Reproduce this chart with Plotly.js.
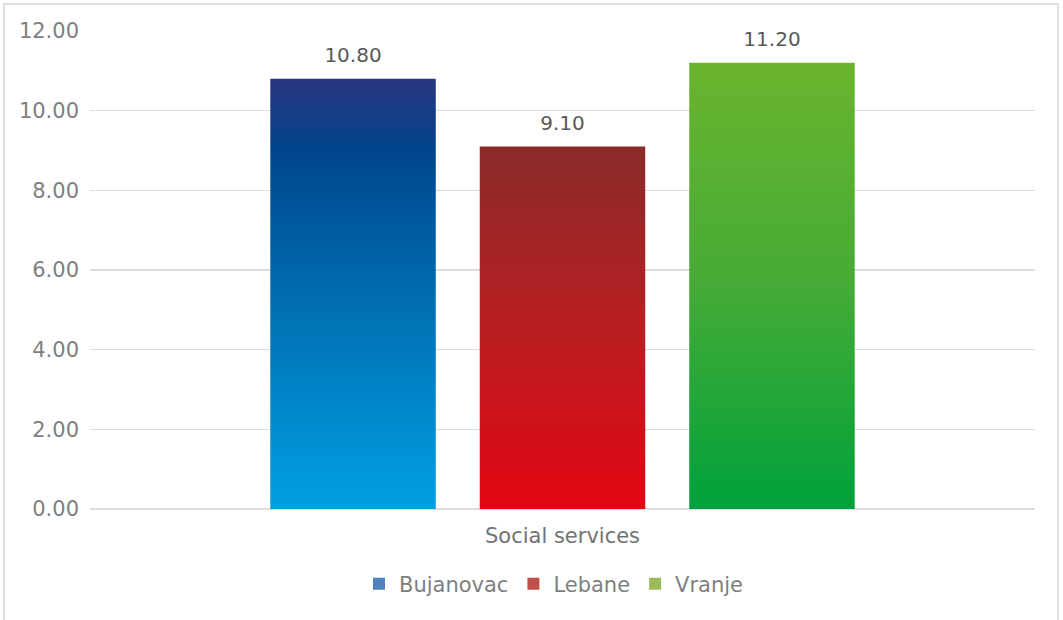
<!DOCTYPE html>
<html>
<head>
<meta charset="utf-8">
<script src="https://cdn.plot.ly/plotly-3.0.1.min.js"></script>
<style>
  html, body { margin: 0; padding: 0; background: #ffffff; }
  #wrap { position: relative; width: 1063px; height: 620px; overflow: hidden; }
  #chart { width: 1063px; height: 620px; }
  #frame { position: absolute; left: 3px; top: 3px; width: 1056px; height: 640px;
           border: 2px solid #dedede; pointer-events: none; box-sizing: border-box; }
</style>
</head>
<body>
<div id="wrap">
  <div id="chart"></div>
  <div id="frame"></div>
</div>
<script>
const categories = ["Social services"];
const seriesNames = ["Bujanovac", "Lebane", "Vranje"];
const bujanovac = [10.8];
const lebane = [9.1];
const vranje = [11.2];
const tickValues = [0, 2, 4, 6, 8, 10, 12];
const tickLabels = ["0.00", "2.00", "4.00", "6.00", "8.00", "10.00", "12.00"];

const legendColors = ["#4F81BD", "#C0504D", "#9BBB59"];
const gradients = [
  [[0, "#2a3481"], [0.17, "#00468c"], [0.55, "#0072b5"], [1, "#009fe3"]],
  [[0, "#8a2a2a"], [0.5, "#b91f22"], [1, "#e30613"]],
  [[0, "#6ab42e"], [0.5, "#45ab36"], [1, "#00a13b"]]
];

const font = "'DejaVu Sans', 'Open Sans', sans-serif";
const values = [bujanovac, lebane, vranje];

const traces = seriesNames.map((name, i) => ({
  type: "bar",
  name: name,
  x: categories,
  y: values[i],
  marker: { color: legendColors[i], line: { width: 0 } },
  texttemplate: "%{y:.2f}",
  textposition: "outside",
  textfont: { family: font, size: 20, color: "#595959" },
  cliponaxis: false,
  hoverinfo: "none"
}));

const layout = {
  width: 1063,
  height: 620,
  margin: { l: 90, r: 28, t: 31, b: 111 },
  paper_bgcolor: "#ffffff",
  plot_bgcolor: "#ffffff",
  barmode: "group",
  bargap: 0.335,
  bargroupgap: 0.21,
  font: { family: font, color: "#7f7f7f" },
  showlegend: true,
  legend: {
    orientation: "h",
    x: 0.491, xanchor: "center",
    y: -0.157, yanchor: "middle",
    font: { family: font, size: 21, color: "#7f7f7f" },
    itemwidth: 30,
    traceorder: "normal"
  },
  xaxis: {
    type: "category",
    showgrid: false,
    showline: false,
    zeroline: false,
    ticks: "",
    tickfont: { family: font, size: 21, color: "#737373" },
    ticklabelstandoff: 12
  },
  yaxis: {
    range: [0, 12],
    tickvals: tickValues,
    ticktext: tickLabels,
    showgrid: true,
    gridcolor: "#dcdcdc",
    gridwidth: 1.5,
    zeroline: true,
    zerolinecolor: "#dcdcdc",
    zerolinewidth: 1.5,
    showline: false,
    ticks: "",
    ticklabelstandoff: 10,
    tickfont: { family: font, size: 21, color: "#7f7f7f" },
    fixedrange: true
  }
};

Plotly.newPlot("chart", traces, layout, { displayModeBar: false, staticPlot: true }).then(gd => {
  const svg = gd.querySelector("svg.main-svg");
  const ns = "http://www.w3.org/2000/svg";
  let defs = svg.querySelector("defs");
  if (!defs) { defs = document.createElementNS(ns, "defs"); svg.insertBefore(defs, svg.firstChild); }
  gradients.forEach((stops, i) => {
    const lg = document.createElementNS(ns, "linearGradient");
    lg.setAttribute("id", "barGrad" + i);
    lg.setAttribute("x1", "0"); lg.setAttribute("y1", "0");
    lg.setAttribute("x2", "0"); lg.setAttribute("y2", "1");
    stops.forEach(([off, col]) => {
      const st = document.createElementNS(ns, "stop");
      st.setAttribute("offset", off);
      st.setAttribute("stop-color", col);
      lg.appendChild(st);
    });
    defs.appendChild(lg);
  });
  const traceGroups = gd.querySelectorAll(".barlayer .trace");
  traceGroups.forEach((g, i) => {
    g.querySelectorAll(".point path").forEach(p => {
      p.style.fill = "url(#barGrad" + i + ")";
    });
    // lift the value labels a little further above the bars, as in the reference
    g.querySelectorAll(".point text.bartext").forEach(t => {
      const tr = t.getAttribute("transform") || "";
      t.setAttribute("transform", (tr + " translate(0,-9)").trim());
    });
  });
});
</script>
</body>
</html>
